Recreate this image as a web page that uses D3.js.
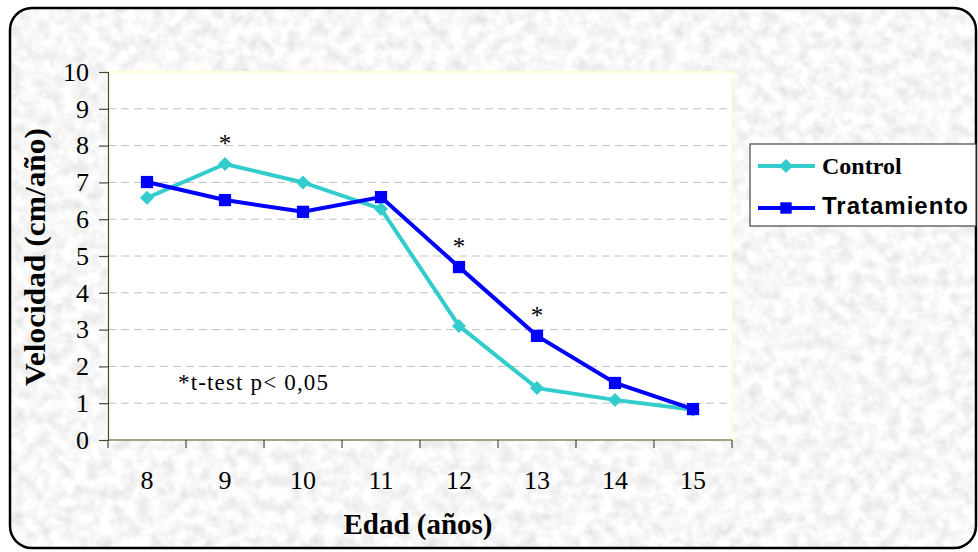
<!DOCTYPE html>
<html>
<head>
<meta charset="utf-8">
<script src="https://cdn.jsdelivr.net/npm/d3@7"></script>
<style>
  body { margin: 0; background: #fff; }
  svg { display: block; }
</style>
</head>
<body>
<script>
var swidth = 978,
    sheight = 552,
    margin = {top: 72, right: 246, bottom: 112, left: 108},
    width = swidth - margin.left - margin.right,
    height = sheight - margin.top - margin.bottom;

var serif = "'Liberation Serif', 'Times New Roman', serif",
    sans = "'Liberation Sans', Arial, sans-serif";

// data
var edades = ["8", "9", "10", "11", "12", "13", "14", "15"];
var control = [6.58, 7.5, 7.0, 6.28, 3.1, 1.41, 1.09, 0.82];
var tratamiento = [7.01, 6.52, 6.2, 6.6, 4.7, 2.83, 1.55, 0.84];
var yTicks = [0, 1, 2, 3, 4, 5, 6, 7, 8, 9, 10];
var signif = ["9", "12", "13"]; // edades con asterisco

var series = [
  {name: "Control", values: control, color: "#33cccc", marker: "diamond"},
  {name: "Tratamiento", values: tratamiento, color: "#0000ff", marker: "square"}
];

var svg = d3.select("body").append("svg")
    .attr("width", swidth)
    .attr("height", sheight);

// marble-like background texture
var defs = svg.append("defs");
var filt = defs.append("filter")
    .attr("id", "marble")
    .attr("x", 0).attr("y", 0).attr("width", "100%").attr("height", "100%");
filt.append("feTurbulence")
    .attr("type", "fractalNoise")
    .attr("baseFrequency", "0.08")
    .attr("numOctaves", 4)
    .attr("seed", 7);
filt.append("feColorMatrix")
    .attr("type", "matrix")
    .attr("values", "0.4 0 0 0 0.73  0.4 0 0 0 0.73  0.4 0 0 0 0.73  0 0 0 0 1");

defs.append("clipPath").attr("id", "frame-clip")
  .append("rect")
    .attr("x", 10).attr("y", 8)
    .attr("width", 966).attr("height", 540)
    .attr("rx", 22);

svg.append("rect")
    .attr("x", 10).attr("y", 8)
    .attr("width", 966).attr("height", 540)
    .attr("clip-path", "url(#frame-clip)")
    .attr("filter", "url(#marble)");

svg.append("rect")
    .attr("x", 10).attr("y", 8)
    .attr("width", 966).attr("height", 540)
    .attr("rx", 22)
    .attr("fill", "none")
    .attr("stroke", "#000")
    .attr("stroke-width", 2.5);

var g = svg.append("g")
    .attr("transform", "translate(" + margin.left + "," + margin.top + ")");

var x = d3.scaleBand()
    .domain(edades)
    .range([0, width]);

var y = d3.scaleLinear()
    .domain([0, 10])
    .range([height, 0]);

// plot area
g.append("rect")
    .attr("width", width)
    .attr("height", height)
    .attr("fill", "#fff")
    .attr("stroke", "#ffffc0")
    .attr("stroke-width", 1.5);

// gridlines
g.append("g")
    .attr("class", "grid")
  .selectAll("line")
  .data(yTicks.filter(function(d) { return d > 0 && d < 10; }))
  .enter().append("line")
    .attr("x1", 0)
    .attr("x2", width)
    .attr("y1", function(d) { return y(d); })
    .attr("y2", function(d) { return y(d); })
    .attr("stroke", "#c0c0c0")
    .attr("stroke-dasharray", "8,5");

// y axis
var yAxis = g.append("g")
    .call(d3.axisLeft(y).tickValues(yTicks).tickSize(9).tickPadding(10));
yAxis.selectAll("text")
    .attr("font-family", serif)
    .attr("font-size", 26)
    .attr("fill", "#000");
yAxis.selectAll("line, path").attr("stroke", "#4a4a3a").attr("stroke-width", 1.2);

// x axis: ticks between categories, labels centred
var xa = g.append("g")
    .attr("transform", "translate(0," + height + ")");
xa.append("line")
    .attr("x1", 0).attr("x2", width)
    .attr("stroke", "#4a4a3a")
    .attr("stroke-width", 1.2);
xa.selectAll("line.tick")
  .data(edades.map(function(d) { return x(d); }).concat([width]))
  .enter().append("line")
    .attr("class", "tick")
    .attr("x1", function(d) { return d; })
    .attr("x2", function(d) { return d; })
    .attr("y1", 0).attr("y2", 8)
    .attr("stroke", "#4a4a3a")
    .attr("stroke-width", 1.2);
xa.selectAll("text")
  .data(edades)
  .enter().append("text")
    .attr("x", function(d) { return x(d) + x.bandwidth() / 2; })
    .attr("y", 49)
    .attr("text-anchor", "middle")
    .attr("font-family", serif)
    .attr("font-size", 26)
    .text(function(d) { return d; });

// lines + markers
var line = d3.line()
    .x(function(d, i) { return x(edades[i]) + x.bandwidth() / 2; })
    .y(function(d) { return y(d); });

series.forEach(function(s) {
  g.append("path")
    .datum(s.values)
    .attr("d", line)
    .attr("fill", "none")
    .attr("stroke", s.color)
    .attr("stroke-width", 4);

  g.selectAll("path.m-" + s.marker)
    .data(s.values)
    .enter().append("path")
    .attr("class", "m-" + s.marker)
    .attr("transform", function(d, i) {
      return "translate(" + (x(edades[i]) + x.bandwidth() / 2) + "," + y(d) + ")"; })
    .attr("d", s.marker === "square" ? d3.symbol(d3.symbolSquare, 150)() : "M0,-7L7,0L0,7L-7,0Z")
    .attr("fill", s.color);
});

// asterisks over significant ages
g.selectAll("text.ast")
  .data(signif)
  .enter().append("text")
    .attr("class", "ast")
    .attr("x", function(d) { return x(d) + x.bandwidth() / 2; })
    .attr("y", function(d) {
      var i = edades.indexOf(d);
      return y(Math.max(control[i], tratamiento[i])) - 12; })
    .attr("text-anchor", "middle")
    .attr("font-family", serif)
    .attr("font-size", 25)
    .text("*");

g.append("text")
    .attr("x", 70)
    .attr("y", 318)
    .attr("font-family", serif)
    .attr("font-size", 23)
    .attr("textLength", 150)
    .attr("lengthAdjust", "spacing")
    .text("*t-test p< 0,05");

// axis titles
svg.append("text")
    .attr("transform", "translate(45,257) rotate(-90)")
    .attr("text-anchor", "middle")
    .attr("font-family", serif)
    .attr("font-weight", "bold")
    .attr("font-size", 29)
    .attr("textLength", 258)
    .attr("lengthAdjust", "spacingAndGlyphs")
    .text("Velocidad (cm/año)");

svg.append("text")
    .attr("x", 418)
    .attr("y", 534)
    .attr("text-anchor", "middle")
    .attr("font-family", serif)
    .attr("font-weight", "bold")
    .attr("font-size", 29)
    .text("Edad (años)");

// legend
var legend = svg.append("g")
    .attr("transform", "translate(750,144)");
legend.append("rect")
    .attr("width", 226)
    .attr("height", 82)
    .attr("fill", "#fff")
    .attr("stroke", "#444")
    .attr("stroke-width", 1.2);

var items = legend.selectAll("g.item")
  .data(series)
  .enter().append("g")
    .attr("class", "item")
    .attr("transform", function(d, i) { return "translate(0," + (22 + i * 42) + ")"; });
items.append("line")
    .attr("x1", 8).attr("x2", 65)
    .attr("stroke", function(d) { return d.color; })
    .attr("stroke-width", 4);
items.append("path")
    .attr("transform", "translate(36,0)")
    .attr("d", function(d) {
      return d.marker === "square" ? d3.symbol(d3.symbolSquare, 130)() : "M0,-7L7,0L0,7L-7,0Z"; })
    .attr("fill", function(d) { return d.color; });
items.append("text")
    .attr("x", 72)
    .attr("y", function(d, i) { return i === 0 ? 8 : 6; })
    .attr("font-family", function(d, i) { return i === 0 ? serif : sans; })
    .attr("font-weight", "bold")
    .attr("font-size", 24)
    .attr("letter-spacing", function(d, i) { return i === 0 ? 0 : 1; })
    .text(function(d) { return d.name; });
</script>
</body>
</html>
